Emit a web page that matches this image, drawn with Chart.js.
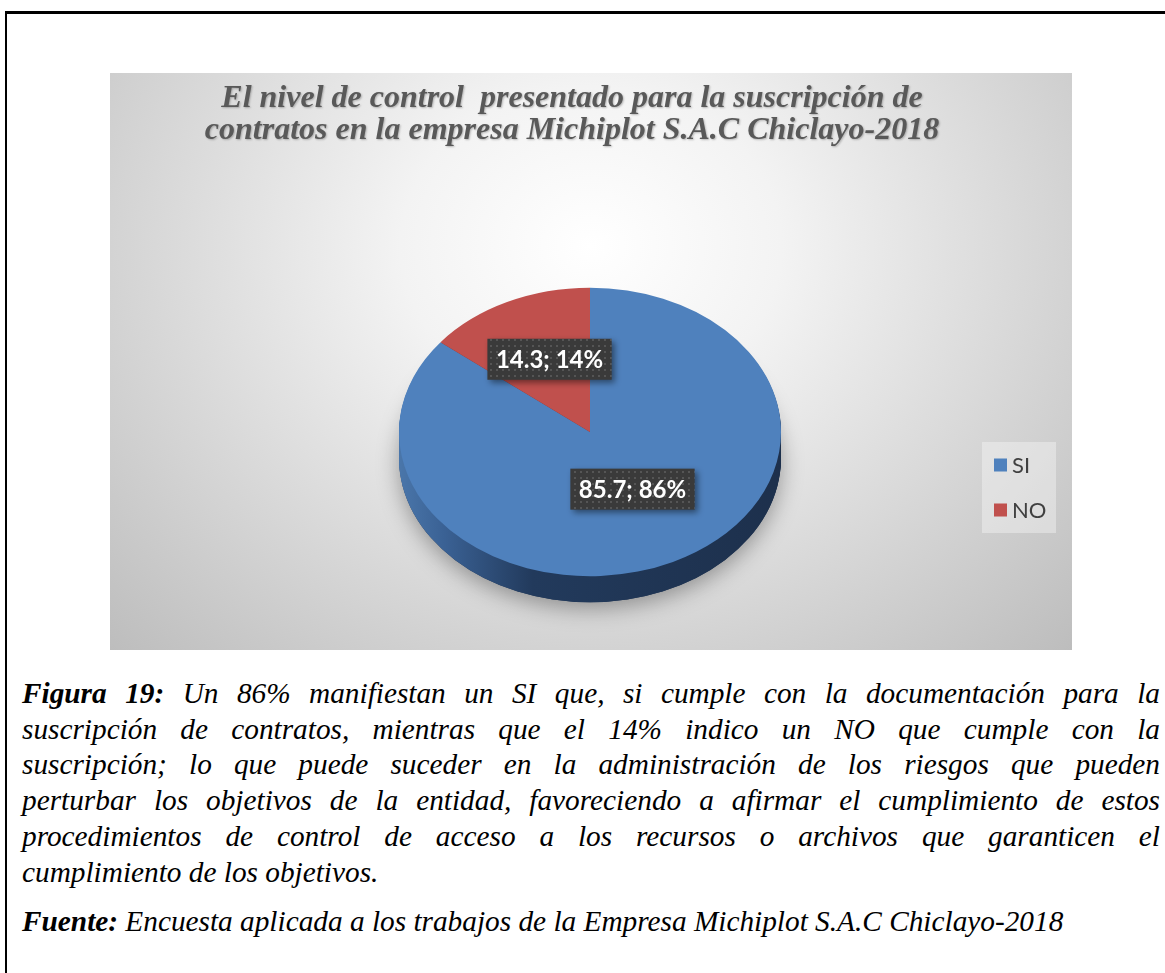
<!DOCTYPE html>
<html lang="es">
<head>
<meta charset="utf-8">
<title>Nivel de control - suscripción de contratos</title>
<script src="https://cdn.jsdelivr.net/npm/chart.js@4.4.1/dist/chart.umd.min.js"></script>
<style>
  body { margin: 0; background: #fff; width: 1165px; height: 973px; overflow: hidden; position: relative; }
  .frame {
    position: absolute; left: 5px; top: 11px; width: 1200px; height: 1000px;
    border-top: 3px solid #000; border-left: 2px solid #000;
  }
  .chartbox {
    position: absolute; left: 110px; top: 73px; width: 962px; height: 577px;
    background: radial-gradient(ellipse farthest-corner at 50% 30%, #ffffff 0%, #f3f3f3 28%, #bdbdbd 100%);
  }
  .chartbox canvas { position: absolute; left: 0; top: 0; }
  .title {
    position: absolute; left: 0; top: 7px; width: 924px; text-align: center;
    font: bold italic 32px/32px "Liberation Serif", "Times New Roman", serif;
    color: #595959; text-shadow: 1px 1px 2px rgba(0,0,0,0.25);
  }
  .cap {
    position: absolute; left: 22px; width: 1138px;
    font: italic 29.3px/35.7px "Liberation Serif", "Times New Roman", serif; color: #000;
  }
  .cap div { white-space: nowrap; text-align: justify; text-align-last: justify; }
  .cap div.last { text-align-last: left; }
</style>
</head>
<body>
<div class="frame"></div>
<div class="chartbox">
  <canvas id="pie" width="962" height="577"></canvas>
  <div class="title">
    <div>El nivel de control&nbsp; presentado para la suscripción de</div>
    <div>contratos en la empresa Michiplot S.A.C Chiclayo-2018</div>
  </div>
</div>
<div class="cap" style="top:676px">
  <div><b>Figura 19:</b> Un 86% manifiestan un SI que, si cumple con la documentación para la</div>
  <div>suscripción de contratos, mientras que el 14% indico un NO que cumple con la</div>
  <div>suscripción; lo que puede suceder en la administración de los riesgos que pueden</div>
  <div>perturbar los objetivos de la entidad, favoreciendo a afirmar el cumplimiento de estos</div>
  <div>procedimientos de control de acceso a los recursos o archivos que garanticen el</div>
  <div class="last">cumplimiento de los objetivos.</div>
</div>
<div class="cap" style="top:904px">
  <div class="last"><b>Fuente:</b> Encuesta aplicada a los trabajos de la Empresa Michiplot S.A.C Chiclayo-2018</div>
</div>
<script>
const categories = ['SI', 'NO'];
const values = [85.7, 14.3];
const colors = ['#4f81bd', '#c0504d'];

// 3d look
const SQUASH = 0.755;
const DEPTH = 26;
const LABEL_RADIUS = [0.44, 0.56];
const LABEL_SHIFT_X = 6;
const LEGEND_X = 872, LEGEND_Y = 369;

// small dotted texture for the label boxes
const dots = document.createElement('canvas');
dots.width = 6; dots.height = 6;
const dctx = dots.getContext('2d');
dctx.fillStyle = '#3a3a3a';
dctx.fillRect(0, 0, 6, 6);
dctx.fillStyle = '#555555';
dctx.fillRect(2, 2, 2, 2);

const pie3d = {
  id: 'pie3d',
  beforeDatasetsDraw(chart) {
    const ctx = chart.ctx;
    const arcs = chart.getDatasetMeta(0).data;
    const cx = arcs[0].x, cy = arcs[0].y, r = arcs[0].outerRadius;

    // soft shadow under the disc
    ctx.save();
    ctx.shadowColor = 'rgba(0,0,0,0.35)';
    ctx.shadowBlur = 22;
    ctx.shadowOffsetY = 6;
    ctx.fillStyle = '#1f3452';
    ctx.beginPath();
    ctx.ellipse(cx, cy + DEPTH, r, r * SQUASH, 0, 0, Math.PI * 2);
    ctx.fill();
    ctx.restore();

    // side walls
    const grad = ctx.createLinearGradient(cx - r, 0, cx + r, 0);
    grad.addColorStop(0, '#4a76aa');
    grad.addColorStop(0.12, '#3a6194');
    grad.addColorStop(0.35, '#223a5c');
    grad.addColorStop(1, '#1d304c');
    for (let d = DEPTH; d >= 1; d--) {
      arcs.forEach((arc, i) => {
        ctx.fillStyle = i === 0 ? grad : '#7a2f2d';
        ctx.beginPath();
        ctx.ellipse(cx, cy + d, r, r * SQUASH, 0, arc.startAngle, arc.endAngle);
        ctx.lineTo(cx, cy + d);
        ctx.closePath();
        ctx.fill();
      });
    }

    // squash the top face into an ellipse
    ctx.save();
    ctx.translate(cx, cy);
    ctx.scale(1, SQUASH);
    ctx.translate(-cx, -cy);
  },
  afterDatasetsDraw(chart) {
    const ctx = chart.ctx;
    ctx.restore();

    const arcs = chart.getDatasetMeta(0).data;
    const total = values.reduce((a, b) => a + b, 0);

    // data labels
    ctx.save();
    ctx.font = 'bold 24px Lato, "Noto Sans", sans-serif';
    ctx.textAlign = 'center';
    ctx.textBaseline = 'middle';
    arcs.forEach((arc, i) => {
      const mid = (arc.startAngle + arc.endAngle) / 2;
      const rr = arc.outerRadius * LABEL_RADIUS[i];
      const x = arc.x + Math.cos(mid) * rr + LABEL_SHIFT_X;
      const y = arc.y + Math.sin(mid) * rr * SQUASH;
      const text = values[i].toFixed(1) + '; ' + Math.round(values[i] / total * 100) + '%';
      const w = ctx.measureText(text).width + 17;
      const h = 41;
      ctx.save();
      ctx.shadowColor = 'rgba(0,0,0,0.45)';
      ctx.shadowBlur = 6;
      ctx.shadowOffsetX = 3;
      ctx.shadowOffsetY = 3;
      ctx.fillStyle = ctx.createPattern(dots, 'repeat');
      ctx.fillRect(x - w / 2, y - h / 2, w, h);
      ctx.restore();
      ctx.fillStyle = '#ffffff';
      ctx.fillText(text, x, y + 1);
    });
    ctx.restore();

    // legend
    ctx.save();
    ctx.fillStyle = 'rgba(255,255,255,0.35)';
    ctx.fillRect(LEGEND_X, LEGEND_Y, 74, 91);
    ctx.font = '22px Lato, "Noto Sans", sans-serif';
    ctx.textBaseline = 'middle';
    categories.forEach((name, i) => {
      const y = LEGEND_Y + 23 + i * 45;
      ctx.fillStyle = arcs[i].options.backgroundColor;
      ctx.fillRect(LEGEND_X + 12, y - 6.5, 13, 13);
      ctx.fillStyle = '#404040';
      ctx.fillText(name, LEGEND_X + 30, y + 1);
    });
    ctx.restore();
  }
};

new Chart(document.getElementById('pie'), {
  type: 'pie',
  data: {
    labels: categories,
    datasets: [{
      data: values,
      backgroundColor: colors,
      borderWidth: 0,
      clip: false
    }]
  },
  options: {
    responsive: false,
    animation: false,
    devicePixelRatio: 1,
    layout: { padding: { top: 168, bottom: 27, left: 0, right: 2 } },
    plugins: {
      legend: { display: false },
      tooltip: { enabled: false }
    }
  },
  plugins: [pie3d]
});
</script>
</body>
</html>
